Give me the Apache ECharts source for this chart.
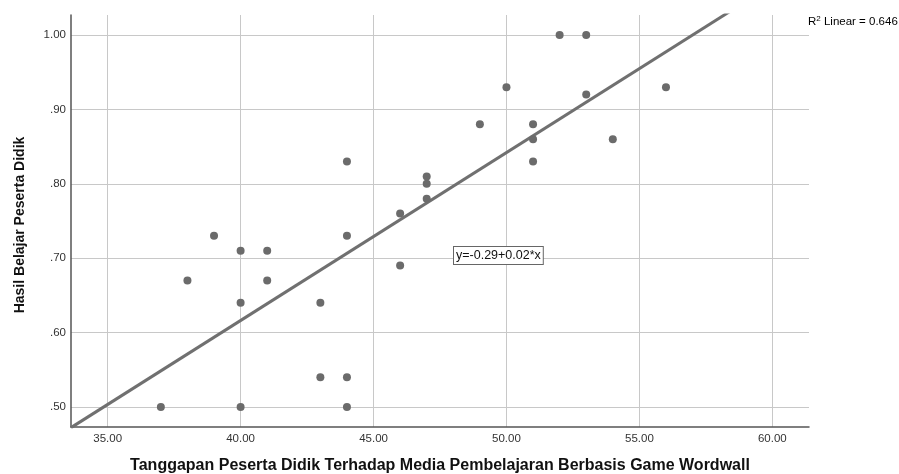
<!DOCTYPE html>
<html><head><meta charset="utf-8">
<script src="https://cdn.jsdelivr.net/npm/echarts@6/dist/echarts.min.js"></script>
<style>html,body{margin:0;padding:0;background:#fff;overflow:hidden}#c{width:899px;height:474px}</style>
</head><body><div id="c"></div>
<script>
const xValues = [37, 38, 39, 40, 40, 40, 41, 41, 43, 43, 44, 44, 44, 44, 46, 46, 47, 47, 47, 49, 50, 51, 51, 51, 52, 53, 53, 54, 56];
const yValues = [0.50, 0.67, 0.73, 0.71, 0.64, 0.50, 0.71, 0.67, 0.64, 0.54, 0.83, 0.73, 0.54, 0.50, 0.76, 0.69, 0.81, 0.80, 0.78, 0.88, 0.93, 0.88, 0.86, 0.83, 1.00, 1.00, 0.92, 0.86, 0.93];
const xTicks = [35, 40, 45, 50, 55, 60];
const yTicks = [0.5, 0.6, 0.7, 0.8, 0.9, 1.0];
const xRange = [33.62, 61.38];
const yRange = [0.473, 1.027];
const fitIntercept = -0.287;
const fitSlope = 0.02258;
const fitLabel = 'y=-0.29+0.02*x';
const r2Label = '0.646';
const xTitle = 'Tanggapan Peserta Didik Terhadap Media Pembelajaran Berbasis Game Wordwall';
const yTitle = 'Hasil Belajar Peserta Didik';

const points = xValues.map((x, i) => [x, yValues[i]]);
const fitLine = xRange.map(x => [x, fitIntercept + fitSlope * x]);
const fmtY = v => { const s = v.toFixed(2); return s.startsWith('0') ? s.slice(1) : s; };

const chart = echarts.init(document.getElementById('c'), null, {renderer: 'canvas', width: 899, height: 474});
const font = 'Liberation Sans, Arial, sans-serif';
chart.setOption({
  animation: false,
  backgroundColor: '#fff',
  grid: {left: 71, width: 738, top: 15, height: 412, outerBoundsMode: 'none', containLabel: false},
  xAxis: {
    type: 'value', min: xRange[0], max: xRange[1],
    name: xTitle, nameLocation: 'middle', nameGap: 31,
    nameTextStyle: {fontFamily: font, fontSize: 16, fontWeight: 'bold', color: '#111'},
    axisLine: {show: true, lineStyle: {color: '#555', width: 1.5}},
    axisTick: {show: false, customValues: xTicks},
    axisLabel: {customValues: xTicks, formatter: v => v.toFixed(2), fontFamily: font, fontSize: 11.5, color: '#333', margin: 6},
    splitLine: {show: true, lineStyle: {color: '#c8c8c8', width: 1}}
  },
  yAxis: {
    type: 'value', min: yRange[0], max: yRange[1],
    name: yTitle, nameLocation: 'middle', nameGap: 44,
    nameTextStyle: {fontFamily: font, fontSize: 14, fontWeight: 'bold', color: '#111', padding: [0, 8, 0, 0]},
    axisLine: {show: true, lineStyle: {color: '#555', width: 1.5}},
    axisTick: {show: false, customValues: yTicks},
    axisLabel: {customValues: yTicks, formatter: fmtY, fontFamily: font, fontSize: 11.5, color: '#333', margin: 5},
    splitLine: {show: true, lineStyle: {color: '#c8c8c8', width: 1}}
  },
  series: [
    {type: 'line', data: fitLine, showSymbol: false, symbol: 'none', clip: true,
     lineStyle: {color: '#707070', width: 3}, z: 2, silent: true},
    {type: 'scatter', data: points, symbolSize: 8, itemStyle: {color: '#6b6b6b', opacity: 1}, z: 3}
  ],
  graphic: [
    {type: 'text', left: 453, top: 246, z: 10,
     style: {text: fitLabel, font: '12.5px ' + font, fill: '#111', backgroundColor: '#fff',
             borderColor: '#666', borderWidth: 1, padding: [2, 2, 2, 2]}},
    {type: 'text', left: 808, top: 15, z: 10,
     style: {text: '{a|R}{s|2}{a| Linear = ' + r2Label + '}',
             rich: {a: {fontSize: 11.5, fontFamily: font, color: '#666'},
                    s: {fontSize: 8, fontFamily: font, color: '#666', verticalAlign: 'top', padding: [0, 0, 6, 0]}}}}
  ]
});
</script></body></html>
